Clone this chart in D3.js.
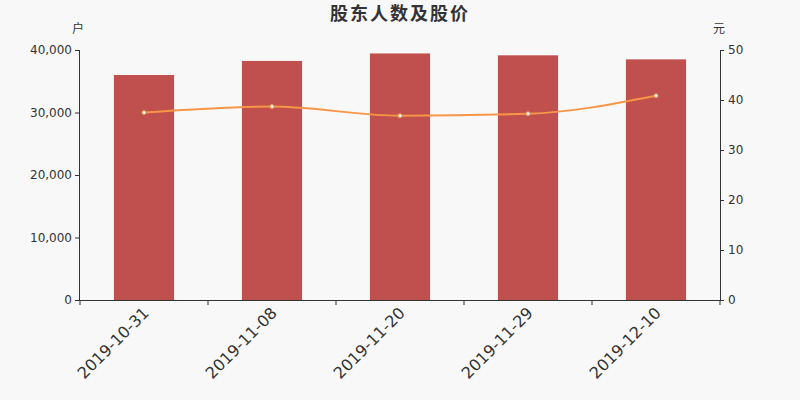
<!DOCTYPE html>
<html><head><meta charset="utf-8">
<script src="https://cdn.jsdelivr.net/npm/d3@7/dist/d3.min.js"></script>
<style>
html,body{margin:0;padding:0;background:#f8f8f8;}
svg{display:block;}
</style></head>
<body><svg id="c" width="800" height="400"></svg>
<script>
const categories = ["2019-10-31","2019-11-08","2019-11-20","2019-11-29","2019-12-10"];
const holders = [36000, 38250, 39450, 39150, 38500];
const prices = [37.5, 38.7, 36.85, 37.25, 40.85];
const leftTicks = [0, 10000, 20000, 30000, 40000];
const rightTicks = [0, 10, 20, 30, 40, 50];
const title = "股东人数及股价";
const leftUnit = "户", rightUnit = "元";

const FONT = "'DejaVu Sans','Noto Sans CJK SC',sans-serif";
const CJK = "'Noto Sans CJK SC',sans-serif";
const svg = d3.select("#c");
const m = {l:80, r:80, t:50, b:100};
const W = 800, H = 400;
const xb = d3.scaleBand().domain(categories).range([m.l, W-m.r]);
const barW = xb.bandwidth()*0.47;
const yL = d3.scaleLinear().domain([0,40000]).range([H-m.b, m.t]);
const yR = d3.scaleLinear().domain([0,50]).range([H-m.b, m.t]);
const axisColor = "#333";
const cx = d=>xb(d)+xb.bandwidth()/2;

svg.append("text").attr("x",400).attr("y",20).attr("text-anchor","middle")
  .attr("font-size",18).attr("font-weight","bold").attr("fill","#333")
  .attr("letter-spacing",2).attr("font-family",CJK).text(title);

svg.append("text").attr("x",78).attr("y",33).attr("text-anchor","middle")
  .attr("font-size",12).attr("fill","#333").attr("font-family",CJK).text(leftUnit);
svg.append("text").attr("x",719).attr("y",33).attr("text-anchor","middle")
  .attr("font-size",12).attr("fill","#333").attr("font-family",CJK).text(rightUnit);

// bars
svg.append("g").selectAll("rect").data(categories).join("rect")
  .attr("x", d=>cx(d)-barW/2).attr("width", barW)
  .attr("y", (d,i)=>yL(holders[i])).attr("height",(d,i)=>yL(0)-yL(holders[i]))
  .attr("fill","#c0504d");

// axes
const gl = svg.append("g").attr("transform",`translate(${m.l},0)`)
  .call(d3.axisLeft(yL).tickValues(leftTicks).tickSize(5).tickPadding(3).tickFormat(d3.format(",")));
const gr = svg.append("g").attr("transform",`translate(${W-m.r},0)`)
  .call(d3.axisRight(yR).tickValues(rightTicks).tickSize(4).tickPadding(4));
const bounds = categories.map(c=>xb(c)).concat([W-m.r]);
const gx = svg.append("g").attr("transform",`translate(0,${H-m.b})`)
  .call(d3.axisBottom(xb).tickSize(0).tickFormat(""));
gx.selectAll(".tick").remove();
gx.selectAll("line.bt").data(bounds).join("line").attr("class","bt")
  .attr("x1",d=>d).attr("x2",d=>d).attr("y1",0).attr("y2",5).attr("stroke",axisColor);
gx.selectAll("text.lb").data(categories).join("text").attr("class","lb")
  .attr("transform",d=>`translate(${cx(d)-2},${6}) rotate(-45)`)
  .attr("text-anchor","end").attr("dy","0.71em").attr("font-size",16).attr("fill","#333").text(d=>d);

[gl,gr,gx].forEach(g=>{
  g.attr("font-family",FONT);
  g.selectAll(".domain").attr("stroke",axisColor).attr("stroke-width",1);
  g.selectAll(".tick line").attr("stroke",axisColor);
  g.selectAll(".tick text").attr("fill","#333").attr("font-size",12);
});
gl.select(".domain").attr("d",`M-0.5,${m.t}V${H-m.b}`);
gr.select(".domain").attr("d",`M0.5,${m.t}V${H-m.b}`);
gx.select(".domain").attr("d",`M${m.l},0.5H${W-m.r}`);

// line
const line = d3.line().x((d,i)=>cx(categories[i])).y(d=>yR(d)).curve(d3.curveMonotoneX);
svg.append("path").datum(prices).attr("d",line).attr("fill","none")
  .attr("stroke","#f79646").attr("stroke-width",2);
svg.append("g").selectAll("circle").data(prices).join("circle")
  .attr("cx",(d,i)=>cx(categories[i])).attr("cy",d=>yR(d)).attr("r",2)
  .attr("fill","#fff").attr("stroke","#f79646").attr("stroke-width",1);
</script></body></html>
